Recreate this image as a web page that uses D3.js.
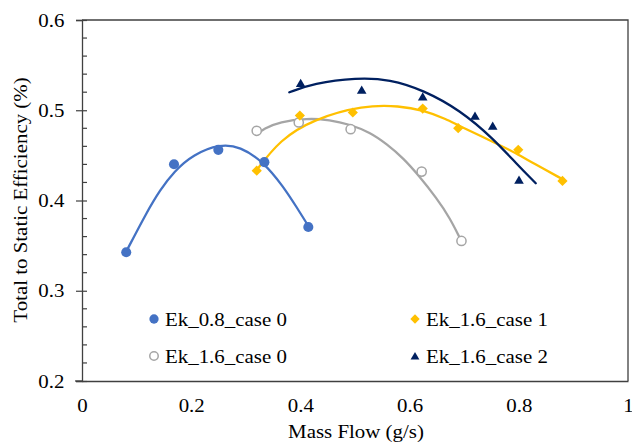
<!DOCTYPE html>
<html lang="en">
<head>
<meta charset="UTF-8">
<title>Efficiency vs mass flow</title>
<script src="https://d3js.org/d3.v7.min.js"></script>
<style>
  body { margin: 0; background: #fff; }
  svg text { font-family: "Liberation Serif", "Tinos", "Times New Roman", Times, "DejaVu Serif", serif; fill: #000; }
</style>
</head>
<body>
<div id="chart"></div>
<script>
// series names
const names = ["Ek_0.8_case 0", "Ek_1.6_case 0", "Ek_1.6_case 1", "Ek_1.6_case 2"];

// measured points  [mass flow g/s, efficiency]
const ek08c0 = [[0.081, 0.3427], [0.1685, 0.4402], [0.2497, 0.4561], [0.334, 0.4425], [0.4145, 0.3707]];
const ek16c0 = [[0.320, 0.4772], [0.397, 0.4864], [0.492, 0.479], [0.6221, 0.432], [0.695, 0.3552]];
const ek16c1 = [[0.320, 0.4331], [0.399, 0.4941], [0.496, 0.4975], [0.624, 0.5019], [0.689, 0.4801], [0.799, 0.4561], [0.880, 0.4217]];
const ek16c2 = [[0.4005, 0.530], [0.5123, 0.5224], [0.624, 0.515], [0.7198, 0.4936], [0.7522, 0.4825], [0.8004, 0.4227]];

// trendlines
const trend08c0 = [[0.0806, 0.3429], [0.1185, 0.387], [0.1429, 0.4115], [0.1685, 0.4322], [0.2039, 0.4511], [0.2527, 0.4626],
  [0.2894, 0.4598], [0.3321, 0.443], [0.3687, 0.4155], [0.3932, 0.3925], [0.4134, 0.3729]];
const trend16c0 = [[0.3223, 0.4737], [0.3321, 0.4795], [0.3626, 0.4873], [0.4115, 0.4911], [0.4542, 0.4895], [0.4908, 0.4842],
  [0.5275, 0.4755], [0.5581, 0.4626], [0.5885, 0.4469], [0.6159, 0.4283], [0.6496, 0.4026], [0.674, 0.3804], [0.6923, 0.3581]];
const trend16c1 = [[0.3187, 0.4327], [0.3626, 0.4674], [0.4236, 0.49], [0.5152, 0.5056], [0.5824, 0.5048], [0.624, 0.5001],
  [0.668, 0.4902], [0.6892, 0.4830], [0.7595, 0.4632], [0.7962, 0.452], [0.8266, 0.4412], [0.8804, 0.4235]];
const trend16c2 = [[0.3797, 0.5199], [0.4236, 0.5297], [0.5031, 0.5362], [0.5641, 0.5343], [0.6251, 0.5224], [0.6923, 0.5002],
  [0.7533, 0.4686], [0.7962, 0.4404], [0.831, 0.4191]];

const xTicks = [0, 0.2, 0.4, 0.6, 0.8, 1];
const yTicks = [0.2, 0.3, 0.4, 0.5, 0.6];

const series = [
  {name: names[0], pts: ek08c0, trend: trend08c0, color: "#4472C4", shape: "circle"},
  {name: names[1], pts: ek16c0, trend: trend16c0, color: "#A5A5A5", shape: "open"},
  {name: names[2], pts: ek16c1, trend: trend16c1, color: "#FFC000", shape: "diamond"},
  {name: names[3], pts: ek16c2, trend: trend16c2, color: "#002060", shape: "triangle"}
];

const W = 632, H = 446;
const margin = {top: 20, right: 4, bottom: 65, left: 82};
const width = W - margin.left - margin.right,
      height = H - margin.top - margin.bottom;
const FONT = "\"Liberation Serif\", Tinos, \"Times New Roman\", Times, \"DejaVu Serif\", serif";
const FS = "19px";
const STRETCH = "scale(1.1,1)";   // text in the picture is a little wide

const svg = d3.select("#chart").append("svg")
    .attr("width", W).attr("height", H);
const g = svg.append("g").attr("transform", `translate(${margin.left},${margin.top})`);

const x = d3.scaleLinear().domain([0, 1]).range([0, width]);
const y = d3.scaleLinear().domain([0.2, 0.6]).range([height, 0]);

// frame (top + right)
g.append("path")
    .attr("d", `M0,0H${width}V${height}`)
    .attr("fill", "none").attr("stroke", "#404040").attr("stroke-width", 1.3);

// minor y ticks (inside)
g.selectAll(".minor").data(y.ticks(20).filter(v => !yTicks.some(t => Math.abs(t - v) < 1e-9)))
  .join("line")
    .attr("x1", 0).attr("x2", 5)
    .attr("y1", d => y(d)).attr("y2", d => y(d))
    .attr("stroke", "#404040").attr("stroke-width", 1.2);

// y axis
const yAxis = g.append("g")
    .call(d3.axisLeft(y).tickValues(yTicks).tickFormat(d3.format(".1f")).tickSize(6).tickPadding(10));
yAxis.attr("font-family", FONT);
yAxis.select(".domain").attr("stroke", "#404040").attr("stroke-width", 1.3);
yAxis.selectAll(".tick line").attr("stroke", "#404040").attr("stroke-width", 1.2).attr("x2", 5).attr("x1", -6);
yAxis.selectAll(".tick text").attr("font-size", FS).attr("transform", STRETCH);

// x axis
const xAxis = g.append("g").attr("transform", `translate(0,${height})`)
    .call(d3.axisBottom(x).tickValues(xTicks).tickFormat(d => d === 0 || d === 1 ? d3.format("d")(d) : d3.format(".1f")(d)).tickSize(0).tickPadding(18));
xAxis.attr("font-family", FONT);
xAxis.select(".domain").attr("stroke", "#404040").attr("stroke-width", 1.3);
xAxis.selectAll(".tick text").attr("font-size", FS).attr("transform", STRETCH);
// left stub of bottom axis
g.append("line").attr("x1", -7).attr("x2", 0).attr("y1", height).attr("y2", height)
    .attr("stroke", "#404040").attr("stroke-width", 1.3);

// axis titles
svg.append("text")
    .attr("transform", `translate(356,438) ${STRETCH}`)
    .attr("text-anchor", "middle").attr("font-size", FS).attr("font-family", FONT)
    .text("Mass Flow (g/s)");
svg.append("text")
    .attr("transform", `translate(27,200) rotate(-90) ${STRETCH}`)
    .attr("text-anchor", "middle").attr("font-size", FS).attr("font-family", FONT)
    .text("Total to Static Efficiency (%)");

// trendlines
const line = d3.line().x(d => x(d[0])).y(d => y(d[1])).curve(d3.curveBasis);
series.forEach(s => {
  g.append("path").datum(s.trend)
      .attr("fill", "none").attr("stroke", s.color)
      .attr("stroke-width", 2.3).attr("stroke-linecap", "round")
      .attr("d", line);
});

function marker(sel, s, k) {
  if (s.shape === "circle") {
    sel.append("path").attr("d", d3.symbol(d3.symbolCircle, 80 * k * k)()).attr("fill", s.color);
  } else if (s.shape === "open") {
    sel.append("circle").attr("r", 4.6 * k).attr("fill", "#fff").attr("stroke", s.color).attr("stroke-width", 1.5);
  } else if (s.shape === "diamond") {
    sel.append("path").attr("d", d3.symbol(d3.symbolSquare, 52 * k * k)())
        .attr("transform", "rotate(45)").attr("fill", s.color);
  } else {
    sel.append("path").attr("d", d3.symbol(d3.symbolTriangle, 40 * k * k)())
        .attr("transform", "translate(0,1)").attr("fill", s.color);
  }
}

// points
series.forEach(s => {
  g.selectAll(null).data(s.pts).join("g")
      .attr("transform", d => `translate(${x(d[0])},${y(d[1])})`)
      .each(function () { marker(d3.select(this), s, 1); });
});

// legend: two columns
const legend = svg.append("g");
series.forEach((s, i) => {
  const col = i === 0 || i === 1 ? 0 : 1;
  const row = i === 0 || i === 2 ? 0 : 1;
  const item = legend.append("g")
      .attr("transform", `translate(${154 + col * 261},${319 + row * 37})`);
  const m = item.append("g");
  marker(m, s, 0.92);
  item.append("text").attr("transform", `translate(11,6.5) ${STRETCH}`)
      .attr("font-size", FS).attr("font-family", FONT).text(s.name);
});
</script>
</body>
</html>
